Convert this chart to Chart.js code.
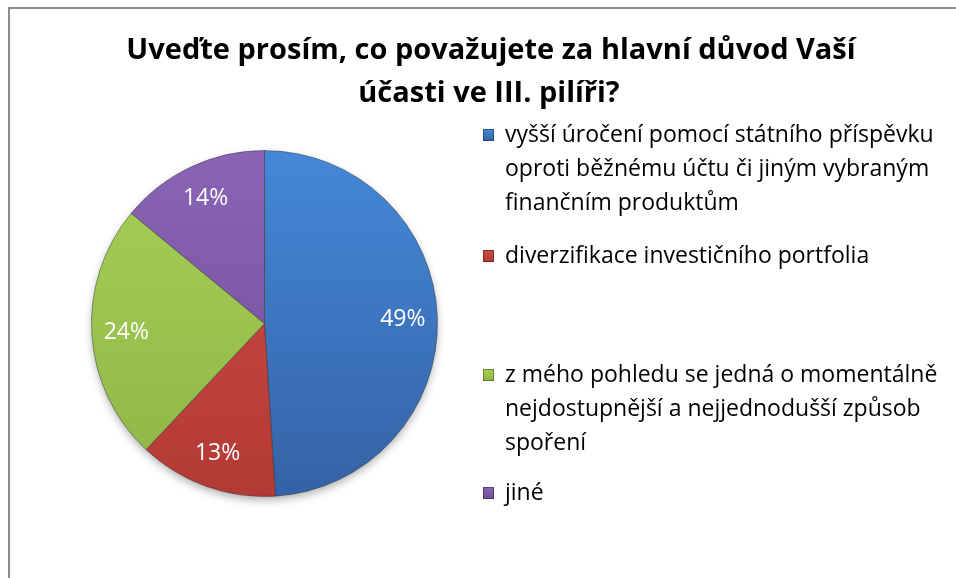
<!DOCTYPE html>
<html>
<head>
<meta charset="utf-8">
<script src="https://cdn.jsdelivr.net/npm/chart.js@4"></script>
<style>
  html, body { margin: 0; padding: 0; background: #fff; }
  #wrap { width: 956px; height: 578px; }
</style>
</head>
<body>
<div id="wrap"><canvas id="myChart" width="956" height="578"></canvas></div>
<script>
const titleLines = ['Uveďte prosím, co považujete za hlavní důvod Vaší', 'účasti ve III. pilíři?'];

const labels = [
  ['vyšší úročení pomocí státního příspěvku', 'oproti běžnému účtu či jiným vybraným', 'finančním produktům'],
  ['diverzifikace investičního portfolia'],
  ['z mého pohledu se jedná o momentálně', 'nejdostupnější a nejjednodušší způsob', 'spoření'],
  ['jiné']
];
const values = [49, 13, 24, 14];

// top / bottom shades of each slice
const topColors = ['#4488d8', '#cf4a45', '#a6d056', '#8a63b6'];
const bottomColors = ['#3562a6', '#b33a36', '#8fb546', '#6f4f96'];
const legendY = [135, 256, 375, 493];

const FONT = '"Open Sans", Lato, sans-serif';

function sliceFill(ctx) {
  const chart = ctx.chart;
  const a = chart.chartArea;
  if (!a) return topColors[ctx.dataIndex];
  const g = chart.ctx.createLinearGradient(0, a.top, 0, a.bottom);
  g.addColorStop(0, topColors[ctx.dataIndex]);
  g.addColorStop(1, bottomColors[ctx.dataIndex]);
  return g;
}

const decor = {
  id: 'decor',
  beforeDraw(chart) {
    const c = chart.ctx;
    c.save();
    c.strokeStyle = '#8c8c8c';
    c.lineWidth = 2;
    c.beginPath();
    c.moveTo(9, 578);
    c.lineTo(9, 8);
    c.lineTo(956, 8);
    c.stroke();

    // title
    c.fillStyle = '#000';
    c.font = 'bold 29px ' + FONT;
    c.textAlign = 'center';
    c.textBaseline = 'middle';
    c.fillText(titleLines[0], 491, 51);
    c.fillText(titleLines[1], 489, 94);

    // legend
    c.textAlign = 'left';
    c.font = '23px ' + FONT;
    labels.forEach((lines, i) => {
      const y0 = legendY[i];
      const g = c.createLinearGradient(0, y0 - 6, 0, y0 + 6);
      g.addColorStop(0, topColors[i]);
      g.addColorStop(1, bottomColors[i]);
      c.fillStyle = g;
      c.fillRect(483, y0 - 6, 11, 12);
      c.strokeStyle = 'rgba(0,0,0,0.35)';
      c.lineWidth = 1;
      c.strokeRect(483.5, y0 - 5.5, 10, 11);
      c.fillStyle = '#000';
      lines.forEach((t, k) => c.fillText(t, 505, y0 + k * 34));
    });
    c.restore();
  },
  beforeDatasetsDraw(chart) {
    const arc = chart.getDatasetMeta(0).data[0];
    if (!arc) return;
    const c = chart.ctx;
    c.save();
    c.shadowColor = 'rgba(0,0,0,0.35)';
    c.shadowBlur = 10;
    c.shadowOffsetY = 4;
    c.fillStyle = '#fff';
    c.beginPath();
    c.arc(arc.x, arc.y, arc.outerRadius - 1, 0, Math.PI * 2);
    c.fill();
    c.restore();
  },
  afterDatasetsDraw(chart) {
    const c = chart.ctx;
    c.save();
    c.fillStyle = '#fff';
    c.font = '23px ' + FONT;
    c.textAlign = 'center';
    c.textBaseline = 'middle';
    chart.getDatasetMeta(0).data.forEach((arc, i) => {
      const mid = (arc.startAngle + arc.endAngle) / 2;
      const r = arc.outerRadius * 0.8;
      c.fillText(values[i] + '%', arc.x + Math.cos(mid) * r, arc.y + Math.sin(mid) * r);
    });
    c.restore();
  }
};

const config = {
  type: 'pie',
  data: {
    labels: labels,
    datasets: [{
      data: values,
      backgroundColor: sliceFill,
      borderColor: 'rgba(40,40,40,0.45)',
      borderWidth: 1
    }]
  },
  options: {
    responsive: false,
    animation: false,
    layout: {
      padding: { left: 90, right: 517, top: 150, bottom: 81 }
    },
    plugins: {
      legend: { display: false },
      title: { display: false },
      tooltip: { enabled: false }
    }
  },
  plugins: [decor]
};

const myChart = new Chart(document.getElementById('myChart'), config);
</script>
</body>
</html>
